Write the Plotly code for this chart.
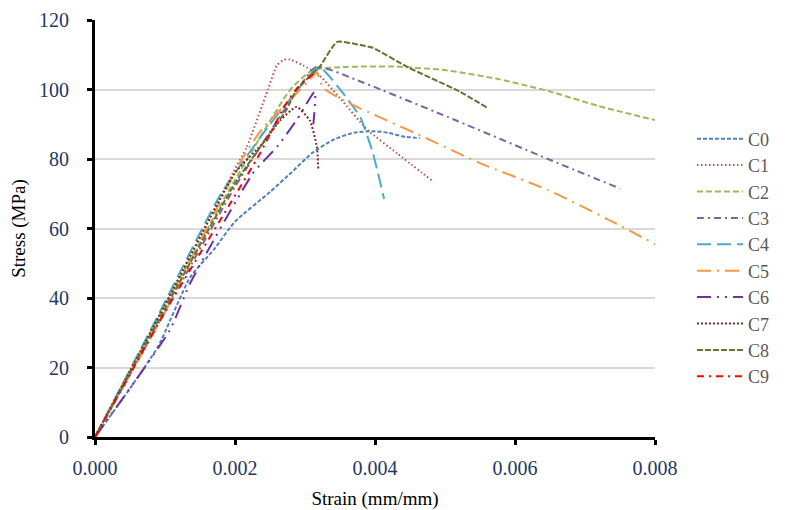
import plotly.graph_objects as go

names = ["C0", "C1", "C2", "C3", "C4", "C5", "C6", "C7", "C8", "C9"]

c0_x = [0, 0.0005, 0.0009, 0.00136, 0.0017, 0.002, 0.0025, 0.0028, 0.0031, 0.0034, 0.0037, 0.004, 0.0042, 0.0044, 0.00464]
c0_y = [0, 14, 26, 46, 54, 62, 70.5, 76, 81.7, 85.5, 87.6, 88, 87.5, 86.5, 86]

c1_x = [0, 0.001, 0.00197, 0.00217, 0.00247, 0.0026, 0.0027, 0.00279, 0.00297, 0.00321, 0.0035, 0.00389, 0.00431, 0.00484]
c1_y = [0, 38, 76, 83.5, 100, 107, 108.6, 108.6, 107, 104, 97.5, 88.4, 81.7, 73.4]

c2_x = [0, 0.001, 0.002, 0.00279, 0.00311, 0.0036, 0.0043, 0.00503, 0.00576, 0.00647, 0.0072, 0.008]
c2_y = [0, 38, 74, 100, 105.6, 106.5, 106.6, 105.5, 103, 99.6, 95.2, 91.2]

c3_x = [0, 0.001, 0.002, 0.0028, 0.00316, 0.00383, 0.00517, 0.00647, 0.0075]
c3_y = [0, 36, 72, 97, 106.5, 102, 91, 80, 71.5]

c4_x = [0, 0.0008, 0.0018, 0.0025, 0.0029, 0.0032, 0.00354, 0.00379, 0.00397, 0.00413]
c4_y = [0, 31, 70, 90, 100, 106.5, 99, 92, 81.7, 68.5]

c5_x = [0, 0.001, 0.0021, 0.0024, 0.00279, 0.00303, 0.00317, 0.00326, 0.00369, 0.0047, 0.0055, 0.00647, 0.00739, 0.008]
c5_y = [0, 36, 80, 89, 97, 102, 104.8, 100.4, 95.5, 86.3, 78.8, 71.1, 62, 55.5]

c6_x = [0, 0.00107, 0.00136, 0.00226, 0.0026, 0.00289, 0.00314, 0.00312]
c6_y = [0, 30.8, 44.3, 76, 83.5, 91.5, 99.4, 90]

c7_x = [0, 0.001, 0.002, 0.0024, 0.00264, 0.00288, 0.00307, 0.00317, 0.00319]
c7_y = [0, 38, 76, 84.6, 91, 95, 91, 83.5, 77]

c8_x = [0, 0.001, 0.002, 0.00273, 0.00288, 0.00321, 0.00346, 0.00379, 0.00397, 0.00446, 0.00521, 0.0056]
c8_y = [0, 37, 73, 94, 100, 106.6, 113.7, 112.8, 112, 106.5, 99.4, 94.8]

c9_x = [0, 0.001, 0.00236, 0.00269, 0.0029, 0.00318]
c9_y = [0, 36, 81.7, 94.6, 100.7, 105.5]

xs = [c0_x, c1_x, c2_x, c3_x, c4_x, c5_x, c6_x, c7_x, c8_x, c9_x]
ys = [c0_y, c1_y, c2_y, c3_y, c4_y, c5_y, c6_y, c7_y, c8_y, c9_y]

colors = ["#4F81BD", "#C0504D", "#9BBB59", "#8064A2", "#4BACC6",
          "#F79646", "#7030A0", "#772C2A", "#5F7530", "#FF0000"]
dashes = ["4px,2px", "1.5px,2.5px", "6px,3px", "7px,4px,2px,4px", "14px,6px",
          "14px,6px,2px,6px", "14px,6px,2px,6px,2px,6px", "2px,2px", "6px,2px", "7px,5px,2px,5px"]

fig = go.Figure()
for n, x, y, c, d in zip(names, xs, ys, colors, dashes):
    fig.add_trace(go.Scatter(x=x, y=y, mode="lines", name=n,
                             line=dict(color=c, width=2, dash=d, shape="spline", smoothing=0.5)))

font_family = "Liberation Serif"
fig.update_layout(
    width=800, height=510,
    margin=dict(l=87, r=153, t=12, b=81),
    paper_bgcolor="white", plot_bgcolor="white",
    font=dict(family=font_family, size=20, color="#1F3864"),
    showlegend=True,
    legend=dict(x=1.066, y=0.759, xanchor="left", yanchor="top",
                font=dict(family=font_family, size=18, color="#595959"),
                tracegroupgap=0, itemwidth=46),
)
fig.update_xaxes(range=[0, 0.008], tickvals=[0, 0.002, 0.004, 0.006, 0.008],
                 ticktext=["0.000", "0.002", "0.004", "0.006", "0.008"],
                 automargin=False,
                 showline=True, linecolor="black", linewidth=3, ticks="outside",
                 tickcolor="black", tickwidth=3, ticklen=5, showgrid=False, zeroline=False,
                 ticklabelstandoff=6,
                 tickfont=dict(family=font_family, size=20, color="#1F3864"),
                 title=dict(text="Strain (mm/mm)", font=dict(family=font_family, size=19, color="black"), standoff=14))
fig.update_yaxes(range=[0, 120], tickvals=[0, 20, 40, 60, 80, 100, 120],
                 automargin=False,
                 showline=True, linecolor="black", linewidth=3, ticks="outside",
                 tickcolor="black", tickwidth=3, ticklen=5, showgrid=True,
                 gridcolor="#D9D9D9", gridwidth=1.5, zeroline=False,
                 ticklabelstandoff=14,
                 tickfont=dict(family=font_family, size=20, color="#1F3864"),
                 title=dict(text="Stress (MPa)", font=dict(family=font_family, size=19, color="black"), standoff=14))

fig.write_html("out.html")
